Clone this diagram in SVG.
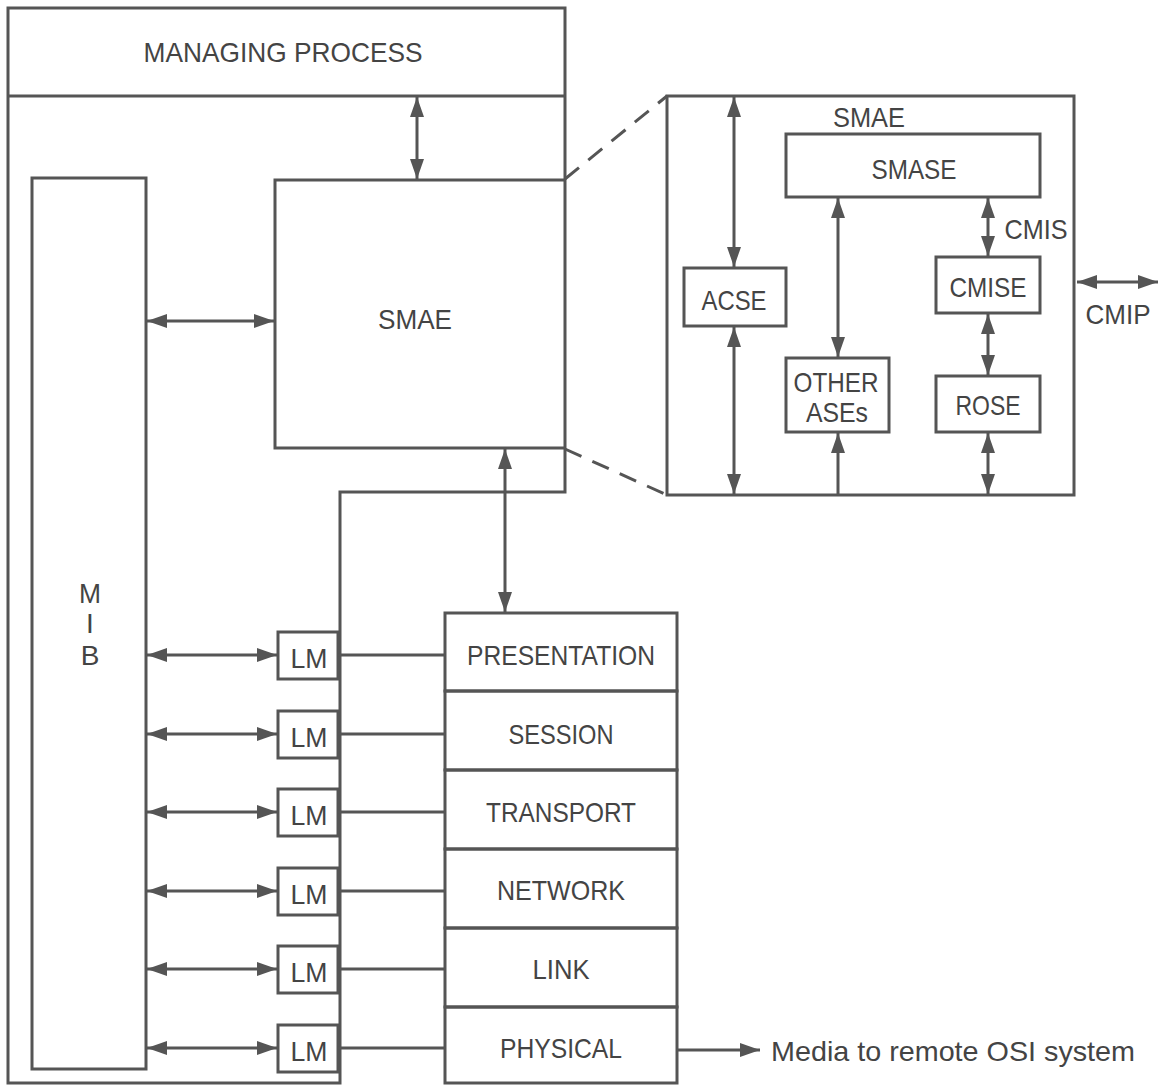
<svg xmlns="http://www.w3.org/2000/svg" width="1163" height="1085" viewBox="0 0 1163 1085">
<style>
.b{fill:none;stroke:#555;stroke-width:3}
.w{fill:#fff;stroke:#555;stroke-width:3}
.c{fill:none;stroke:#555;stroke-width:3}
.a{fill:none;stroke:#555;stroke-width:3;marker-start:url(#ah);marker-end:url(#ah)}
.e{fill:none;stroke:#555;stroke-width:3;marker-end:url(#ah)}
.d{fill:none;stroke:#555;stroke-width:3;stroke-dasharray:18 12}
text{font-family:"Liberation Sans",Arial,sans-serif;font-size:28px;fill:#444;text-anchor:middle}
</style>
<defs>
<marker id="ah" viewBox="0 0 20 14" refX="20" refY="7" markerWidth="20" markerHeight="14" markerUnits="userSpaceOnUse" orient="auto-start-reverse">
<path d="M0,0 L20,7 L0,14 z" fill="#555"/>
</marker>
</defs>
<rect width="1163" height="1085" fill="#fff"/>
<g id="managing-process">
<path class="b" d="M8,8 H565 V492 H340 V1083 H8 Z"/>
<line class="b" x1="8" y1="96" x2="565" y2="96"/>
<text x="283" y="62" textLength="279" lengthAdjust="spacingAndGlyphs">MANAGING PROCESS</text>
</g>
<g id="smae">
<path class="b" d="M565,180 H275 V448 H565"/>
<text x="415" y="329" textLength="74" lengthAdjust="spacingAndGlyphs">SMAE</text>
</g>
<g id="mib">
<rect class="b" x="32" y="178" width="114" height="891"/>
<text x="90" y="603" textLength="22" lengthAdjust="spacingAndGlyphs">M</text>
<text x="90" y="633">I</text>
<text x="90" y="665">B</text>
</g>
<g id="lm1"><rect class="w" x="278" y="632" width="60" height="47"/><text x="309" y="668" textLength="37" lengthAdjust="spacingAndGlyphs">LM</text></g>
<g id="lm2"><rect class="w" x="278" y="711" width="60" height="47"/><text x="309" y="747" textLength="37" lengthAdjust="spacingAndGlyphs">LM</text></g>
<g id="lm3"><rect class="w" x="278" y="789" width="60" height="47"/><text x="309" y="825" textLength="37" lengthAdjust="spacingAndGlyphs">LM</text></g>
<g id="lm4"><rect class="w" x="278" y="868" width="60" height="47"/><text x="309" y="904" textLength="37" lengthAdjust="spacingAndGlyphs">LM</text></g>
<g id="lm5"><rect class="w" x="278" y="946" width="60" height="47"/><text x="309" y="982" textLength="37" lengthAdjust="spacingAndGlyphs">LM</text></g>
<g id="lm6"><rect class="w" x="278" y="1025" width="60" height="47"/><text x="309" y="1061" textLength="37" lengthAdjust="spacingAndGlyphs">LM</text></g>
<g id="presentation"><rect class="b" x="445" y="613" width="232" height="78"/><text x="561" y="665" textLength="188" lengthAdjust="spacingAndGlyphs">PRESENTATION</text></g>
<g id="session"><rect class="b" x="445" y="691" width="232" height="79"/><text x="561" y="744" textLength="105" lengthAdjust="spacingAndGlyphs">SESSION</text></g>
<g id="transport"><rect class="b" x="445" y="770" width="232" height="79"/><text x="561" y="822" textLength="150" lengthAdjust="spacingAndGlyphs">TRANSPORT</text></g>
<g id="network"><rect class="b" x="445" y="849" width="232" height="79"/><text x="561" y="900" textLength="128" lengthAdjust="spacingAndGlyphs">NETWORK</text></g>
<g id="link"><rect class="b" x="445" y="928" width="232" height="79"/><text x="561" y="979" textLength="57" lengthAdjust="spacingAndGlyphs">LINK</text></g>
<g id="physical"><rect class="b" x="445" y="1007" width="232" height="76"/><text x="561" y="1058" textLength="122" lengthAdjust="spacingAndGlyphs">PHYSICAL</text></g>
<g id="media-label"><text x="771" y="1061" text-anchor="start" style="text-anchor:start" textLength="364" lengthAdjust="spacingAndGlyphs">Media to remote OSI system</text></g>
<g id="smae-detail">
<rect class="b" x="667" y="96" width="407" height="399"/>
<text x="869" y="127" textLength="72" lengthAdjust="spacingAndGlyphs">SMAE</text>
</g>
<g id="smase"><rect class="b" x="786" y="134" width="254" height="63"/><text x="914" y="179" textLength="85" lengthAdjust="spacingAndGlyphs">SMASE</text></g>
<g id="acse"><rect class="w" x="684" y="268" width="102" height="58"/><text x="734" y="310" textLength="65" lengthAdjust="spacingAndGlyphs">ACSE</text></g>
<g id="other-ases"><rect class="w" x="786" y="358" width="103" height="74"/><text x="836" y="392" textLength="85" lengthAdjust="spacingAndGlyphs">OTHER</text><text x="837" y="422" textLength="62" lengthAdjust="spacingAndGlyphs">ASEs</text></g>
<g id="cmise"><rect class="w" x="936" y="257" width="104" height="56"/><text x="988" y="297" textLength="77" lengthAdjust="spacingAndGlyphs">CMISE</text></g>
<g id="rose"><rect class="w" x="936" y="376" width="104" height="56"/><text x="988" y="415" textLength="65" lengthAdjust="spacingAndGlyphs">ROSE</text></g>
<g id="cmis-label"><text x="1036" y="239" textLength="63" lengthAdjust="spacingAndGlyphs">CMIS</text></g>
<g id="cmip-label"><text x="1118" y="324" textLength="65" lengthAdjust="spacingAndGlyphs">CMIP</text></g>
<g id="connectors">
<line class="a" x1="417" y1="97" x2="417" y2="179"/>
<line class="a" x1="147" y1="321" x2="274" y2="321"/>
<line class="a" x1="505" y1="449" x2="505" y2="612"/>
<line class="a" x1="147" y1="655" x2="277" y2="655"/>
<line class="a" x1="147" y1="734" x2="277" y2="734"/>
<line class="a" x1="147" y1="812" x2="277" y2="812"/>
<line class="a" x1="147" y1="891" x2="277" y2="891"/>
<line class="a" x1="147" y1="969" x2="277" y2="969"/>
<line class="a" x1="147" y1="1048" x2="277" y2="1048"/>
<line class="c" x1="338" y1="655" x2="445" y2="655"/>
<line class="c" x1="338" y1="734" x2="445" y2="734"/>
<line class="c" x1="338" y1="812" x2="445" y2="812"/>
<line class="c" x1="338" y1="891" x2="445" y2="891"/>
<line class="c" x1="338" y1="969" x2="445" y2="969"/>
<line class="c" x1="338" y1="1048" x2="445" y2="1048"/>
<line class="e" x1="677" y1="1050" x2="760" y2="1050"/>
<line class="d" x1="565" y1="179" x2="667" y2="96"/>
<line class="d" x1="565" y1="449" x2="667" y2="495"/>
<line class="a" x1="734" y1="97" x2="734" y2="267"/>
<line class="a" x1="734" y1="327" x2="734" y2="494"/>
<line class="a" x1="838" y1="198" x2="838" y2="357"/>
<line class="e" x1="838" y1="494" x2="838" y2="433"/>
<line class="a" x1="988" y1="198" x2="988" y2="256"/>
<line class="a" x1="988" y1="314" x2="988" y2="375"/>
<line class="a" x1="988" y1="433" x2="988" y2="494"/>
<line class="a" x1="1077" y1="282" x2="1158" y2="282"/>
</g>
</svg>
